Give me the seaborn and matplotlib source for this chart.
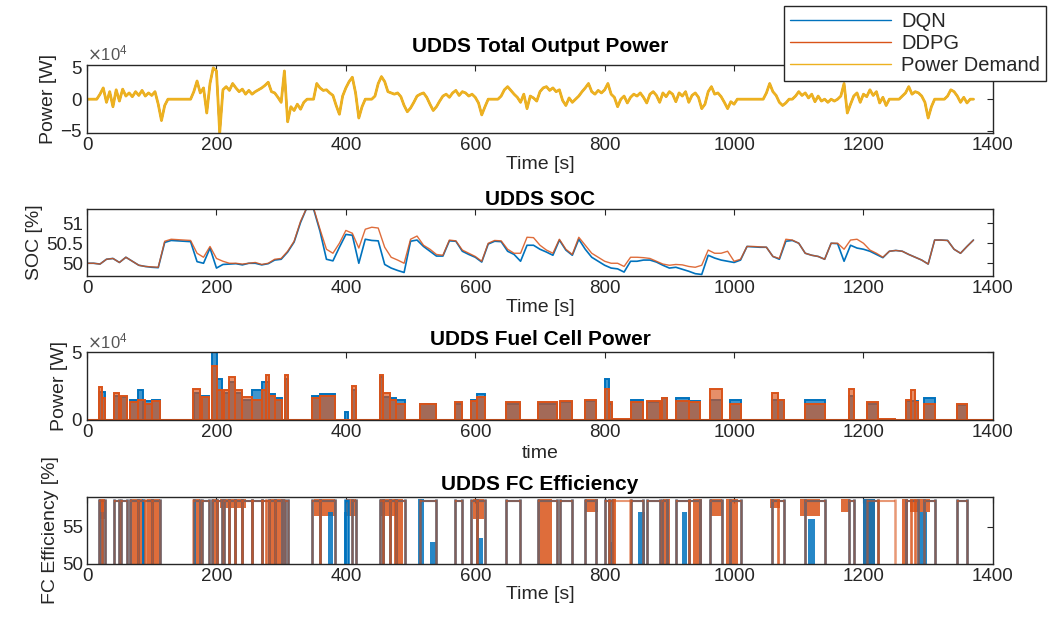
import numpy as np
import matplotlib
matplotlib.use("Agg")
import matplotlib.pyplot as plt
from matplotlib.colors import to_rgba
import seaborn as sns

# colours (MATLAB defaults)
C_DQN = "#0072BD"
C_DDPG = "#D95319"
C_DEM = "#EDB120"

# power demand of the UDDS cycle, one value every 5 s, in kW
demand_kw = [
    0, 0, 0, 0, 8, 18, -5, 12, -12, 15,
    -3, 16, 5, 10, 4, 12, 6, 14, 5, 10,
    6, 12, -8, -34, -10, 0, 0, 0, 0, 0,
    0, 0, 0, 12, 29, 10, 18, -22, 25, 50,
    45, -54, 15, 20, 14, 25, 18, 12, 16, 8,
    14, 8, 12, 15, 18, 22, 27, 12, 10, 3,
    -5, 45, -36, -12, -18, -8, -16, -5, 0, 0,
    0, 25, 18, 14, 15, 10, 6, -10, -24, 5,
    18, 28, 35, 10, -30, -12, 0, 0, 0, 5,
    25, 36, 28, 12, 10, 8, 10, 4, -10, -20,
    -14, -5, 5, 8, 10, 3, -8, -18, -12, -3,
    5, 8, 3, 10, 14, 6, 12, 10, 5, 8,
    3, -6, -25, -12, 0, 0, 0, 0, 5, 15,
    20, 14, 8, 3, -5, 8, -15, 5, 2, -3,
    12, 18, 20, 14, 18, 12, 15, -2, -10, 2,
    -5, 0, 5, 12, 18, 25, 12, 8, 14, 10,
    15, 25, 8, 3, -12, 0, 5, -6, 3, 8,
    5, 10, 3, -6, 8, 12, 6, -5, 10, 4,
    12, 8, -4, 10, 5, 12, -5, 6, 10, 3,
    -15, -8, 12, 20, 8, 10, 4, -5, -15, -4,
    -8, 0, 0, 0, 0, 0, 0, 0, 0, 0,
    10, 25, 12, 6, -5, -10, -6, 0, 0, 5,
    12, 6, 10, 2, 8, -4, 5, -3, 0, -5,
    0, -3, 0, 5, 25, -22, -8, 5, 10, -5,
    8, 4, 15, 6, 12, -6, 3, -10, 0, 0,
    0, 0, 5, 10, 20, 8, 12, 10, 5, -5,
    -30, -12, 0, 0, 0, 0, 5, 15, 12, 5,
    -5, 3, -6, 0, 0,
]
# both agents follow the demand exactly, the curves coincide
dqn_total_kw = demand_kw
ddpg_total_kw = demand_kw

# battery SOC, one value every 10 s, in %
soc_dqn = [
    50.0, 50.0, 49.98, 50.1, 50.12, 50.02, 50.15, 50.05, 49.95, 49.92,
    49.9, 49.89, 50.52, 50.57, 50.56, 50.55, 50.54, 50.04, 50.0, 50.38,
    49.88, 49.97, 49.98, 49.99, 49.96, 50.0, 50.0, 49.96, 49.99, 50.08,
    50.1, 50.28, 50.53, 51.02, 51.4, 51.36, 50.8, 50.1, 50.06, 50.4,
    50.72, 50.7, 50.0, 50.6, 50.57, 50.56, 49.97, 49.88, 49.82, 49.77,
    50.55, 50.58, 50.42, 50.3, 50.18, 50.18, 50.56, 50.55, 50.3, 50.22,
    50.15, 50.03, 50.48, 50.55, 50.54, 50.3, 50.22, 50.05, 50.45, 50.45,
    50.35, 50.28, 50.2, 50.58, 50.33, 50.2, 50.6, 50.35, 50.15, 50.05,
    49.95, 49.88, 49.86, 49.78, 50.05, 50.05, 50.08, 50.08, 50.03, 49.95,
    49.88, 49.9, 49.85, 49.8, 49.74, 49.72, 50.2, 50.13, 50.08, 50.05,
    50.02, 50.08, 50.42, 50.41, 50.4, 50.4, 50.17, 50.1, 50.55, 50.57,
    50.5, 50.25, 50.2, 50.17, 50.1, 50.5, 50.49, 50.05, 50.45, 50.38,
    50.35, 50.3, 50.22, 50.14, 50.3, 50.32, 50.3, 50.22, 50.15, 50.08,
    49.98, 50.58, 50.58, 50.57, 50.35, 50.25, 50.42, 50.58,
]
soc_ddpg = [
    50.0, 50.0, 49.98, 50.1, 50.12, 50.02, 50.15, 50.05, 49.95, 49.92,
    49.91, 49.9, 50.55, 50.6, 50.59, 50.58, 50.57, 50.25, 50.15, 50.42,
    50.12, 50.05, 50.0, 50.0, 49.98, 50.0, 50.02, 49.97, 50.0, 50.1,
    50.12, 50.3, 50.55, 51.05, 51.4, 51.38, 50.85, 50.35, 50.25, 50.5,
    50.82, 50.75, 50.38, 50.85, 50.9, 50.88, 50.4, 50.15, 50.08, 50.0,
    50.6, 50.68, 50.45, 50.35, 50.22, 50.2, 50.58, 50.56, 50.33, 50.25,
    50.17, 50.05, 50.5, 50.57, 50.56, 50.35, 50.25, 50.25, 50.65, 50.64,
    50.45, 50.33, 50.25, 50.6, 50.35, 50.22, 50.65, 50.45, 50.25, 50.15,
    50.05, 50.0, 50.0, 49.92, 50.15, 50.15, 50.14, 50.12, 50.05, 49.98,
    49.95, 49.97, 49.96, 49.92, 49.9, 49.95, 50.33, 50.25, 50.25, 50.3,
    50.05, 50.1, 50.42, 50.42, 50.41, 50.4, 50.17, 50.12, 50.6, 50.58,
    50.5, 50.25, 50.2, 50.17, 50.1, 50.5, 50.5, 50.35, 50.58, 50.6,
    50.5, 50.33, 50.25, 50.15, 50.3, 50.32, 50.3, 50.22, 50.15, 50.08,
    49.98, 50.58, 50.58, 50.57, 50.35, 50.25, 50.42, 50.58,
]

# fuel cell on-periods: (start s, end s, power kW)
fc_dqn = [
    (19, 28, 21), (41, 49, 18), (53, 61, 17), (66, 78, 15), (78, 86, 22),
    (86, 100, 14), (100, 113, 15), (165, 175, 20), (177, 188, 18),
    (193, 201, 50), (201, 208, 30), (211, 220, 20), (220, 228, 28),
    (228, 240, 20), (240, 255, 15), (255, 270, 22), (270, 281, 28),
    (281, 290, 19), (290, 301, 16), (306, 310, 30), (347, 360, 18),
    (360, 383, 19), (398, 403, 6), (409, 415, 22), (452, 457, 32),
    (457, 468, 17), (468, 478, 16), (478, 491, 15), (514, 540, 12),
    (568, 579, 12), (594, 602, 15), (602, 615, 19), (648, 669, 12),
    (697, 726, 12), (731, 749, 13), (769, 787, 14), (800, 806, 30),
    (806, 811, 12), (841, 859, 15), (865, 885, 13), (888, 896, 16),
    (911, 930, 16), (930, 947, 14), (963, 981, 15), (994, 1010, 15),
    (1058, 1077, 15), (1110, 1141, 15), (1177, 1185, 18), (1205, 1223, 12),
    (1265, 1285, 14), (1293, 1311, 16), (1344, 1360, 11),
]
fc_ddpg = [
    (18, 23, 24), (23, 28, 16), (41, 49, 20), (53, 61, 18), (66, 78, 13),
    (78, 90, 15), (90, 100, 12), (100, 113, 14), (164, 175, 23),
    (177, 188, 17), (193, 201, 40), (201, 208, 22), (211, 220, 22),
    (220, 228, 32), (228, 240, 22), (240, 255, 17), (255, 270, 15),
    (270, 276, 22), (276, 281, 33), (281, 290, 18), (290, 301, 15),
    (306, 310, 33), (347, 360, 16), (360, 383, 18), (409, 415, 25),
    (452, 457, 33), (457, 468, 20), (468, 478, 15), (478, 491, 12),
    (514, 540, 12), (568, 579, 13), (594, 602, 14), (602, 615, 17),
    (648, 669, 13), (697, 726, 13), (731, 749, 14), (769, 787, 15),
    (800, 806, 23), (806, 811, 13), (813, 839, 0.8), (841, 859, 13),
    (865, 885, 14), (888, 896, 16), (911, 930, 14), (930, 947, 13),
    (963, 981, 23), (994, 1010, 12), (1058, 1068, 20), (1068, 1077, 15),
    (1110, 1141, 12), (1177, 1185, 23), (1205, 1223, 13), (1223, 1249, 0.6),
    (1265, 1273, 15), (1273, 1280, 22), (1280, 1285, 13), (1293, 1311, 12),
    (1344, 1360, 12),
]

# FC efficiency: dense switching bands (start s, end s, low %, high %)
eff_band_ddpg = [
    (18, 27, 56, 58.8), (66, 87, 50, 58.8), (92, 112, 50, 58.8),
    (163, 175, 50, 58.8), (193, 200, 50, 58.8), (205, 245, 57.5, 58.8),
    (283, 306, 50, 58.8), (350, 383, 56.5, 58.8), (400, 416, 56.5, 58.8),
    (452, 478, 56.5, 58.8), (474, 489, 50, 58.8), (597, 613, 56, 58.8),
    (697, 718, 50, 58.8), (769, 790, 57, 58.8), (811, 818, 50, 58.8),
    (890, 901, 50, 58.8), (937, 950, 50, 58.8), (963, 981, 56.5, 58.8),
    (988, 1006, 50, 58.8), (1055, 1071, 57.5, 58.8), (1102, 1133, 56.5, 58.8),
    (1166, 1179, 57, 58.8), (1200, 1218, 50, 58.8), (1259, 1269, 50, 58.8),
    (1272, 1303, 57, 58.8),
]
eff_band_dqn = [
    (20, 26, 50, 57), (372, 380, 50, 57), (397, 401, 50, 57),
    (512, 520, 50, 58.8), (530, 540, 50, 53), (601, 612, 50, 53.5),
    (806, 812, 50, 53), (852, 862, 50, 57), (920, 927, 50, 57),
    (1115, 1125, 50, 56), (1200, 1218, 50, 58.8), (1285, 1298, 50, 57),
]

sns.set_style("white")
plt.rcParams['font.family'] = ['Liberation Sans', 'DejaVu Sans']
INK = "#262626"

fig = plt.figure(figsize=(10.49, 6.19), dpi=100)
L, W = 0.083, 0.8635
ax1 = fig.add_axes([L, 0.785, W, 0.110])
ax2 = fig.add_axes([L, 0.554, W, 0.108])
ax3 = fig.add_axes([L, 0.3215, W, 0.1095])
ax4 = fig.add_axes([L, 0.089, W, 0.108])


def style(ax, title, xlabel, ylabel, tpad=5, xpad=1):
    ax.set_xlim(0, 1400)
    ax.set_xticks(range(0, 1401, 200))
    ax.tick_params(direction='in', top=True, right=True, length=4, width=0.8,
                   labelsize=13.5, colors=INK, pad=3)
    for s in ax.spines.values():
        s.set_color(INK)
        s.set_linewidth(1.0)
    ax.set_title(title, fontsize=15, fontweight='bold', pad=tpad, color='black')
    ax.set_xlabel(xlabel, fontsize=14, labelpad=xpad, color=INK)
    ax.set_ylabel(ylabel, fontsize=14, labelpad=2, color=INK)


# total output power
t5 = np.arange(len(demand_kw)) * 5
sns.lineplot(x=t5, y=np.array(dqn_total_kw) * 1000, ax=ax1, color=C_DQN,
             lw=1.2, label='DQN', estimator=None)
sns.lineplot(x=t5, y=np.array(ddpg_total_kw) * 1000, ax=ax1, color=C_DDPG,
             lw=1.2, label='DDPG', estimator=None)
sns.lineplot(x=t5, y=np.array(demand_kw) * 1000, ax=ax1, color=C_DEM,
             lw=2.0, label='Power Demand', estimator=None)
handles, labels = ax1.get_legend_handles_labels()
ax1.legend_.remove()
ax1.set_ylim(-5.4e4, 5.45e4)
ax1.set_yticks([-5e4, 0, 5e4])
style(ax1, 'UDDS Total Output Power', 'Time [s]', 'Power [W]', tpad=9)

# SOC
t10 = np.arange(len(soc_dqn)) * 10
sns.lineplot(x=t10, y=soc_dqn, ax=ax2, color=C_DQN, lw=1.2, estimator=None)
sns.lineplot(x=t10, y=soc_ddpg, ax=ax2, color=C_DDPG, lw=1.0, alpha=0.85,
             estimator=None)
ax2.set_ylim(49.68, 51.35)
ax2.set_yticks([50, 50.5, 51])
ax2.set_yticklabels(['50', '50.5', '51'])
style(ax2, 'UDDS SOC', 'Time [s]', 'SOC [%]', tpad=3)

# fuel cell power
for blocks, col, fa in [(fc_dqn, C_DQN, 0.75), (fc_ddpg, C_DDPG, 0.65)]:
    s = np.array([b[0] for b in blocks])
    e = np.array([b[1] for b in blocks])
    p = np.array([b[2] for b in blocks]) * 1000
    ax3.bar(s, p, width=e - s, align='edge', facecolor=to_rgba(col, fa),
            edgecolor=col, linewidth=1.4)
ax3.axhline(0, color=C_DDPG, lw=1.5)
ax3.set_ylim(0, 5e4)
ax3.set_yticks([0, 5e4])
style(ax3, 'UDDS Fuel Cell Power', 'time', 'Power [W]', xpad=3)

for ax in (ax1, ax3):
    ax.ticklabel_format(axis='y', style='sci', scilimits=(0, 0), useMathText=True)
    ax.yaxis.get_offset_text().set_fontsize(12)
    ax.yaxis.get_offset_text().set_color('#555555')

# FC efficiency
for blocks, col, a in [(fc_dqn, C_DQN, 1.0), (fc_ddpg, C_DDPG, 0.6)]:
    s = [b[0] for b in blocks]
    e = [b[1] for b in blocks]
    ax4.vlines(s + e, 0, 58.7, colors=col, lw=1.8, alpha=a)
    ax4.hlines(np.full(len(s), 58.5), s, e, colors=col, lw=1.5, alpha=a)
for bands, col in [(eff_band_ddpg, C_DDPG), (eff_band_dqn, C_DQN)]:
    for s, e, lo, hi in bands:
        ax4.fill_between([s, e], lo, hi, color=col, alpha=0.85, lw=0)
ax4.set_ylim(50, 59)
ax4.set_yticks([50, 55])
style(ax4, 'UDDS FC Efficiency', 'Time [s]', 'FC Efficiency [%]')

leg = fig.legend(handles, ['DQN', 'DDPG', 'Power Demand'], loc='upper right',
                 bbox_to_anchor=(0.997, 0.99), frameon=True, fancybox=False,
                 edgecolor=INK, framealpha=1, fontsize=14.5, handlelength=5,
                 borderpad=0.3, labelspacing=0.15, handletextpad=0.5,
                 borderaxespad=0)
for h in leg.get_lines():
    h.set_linewidth(1.0)

fig.savefig("out.png", dpi=100)
